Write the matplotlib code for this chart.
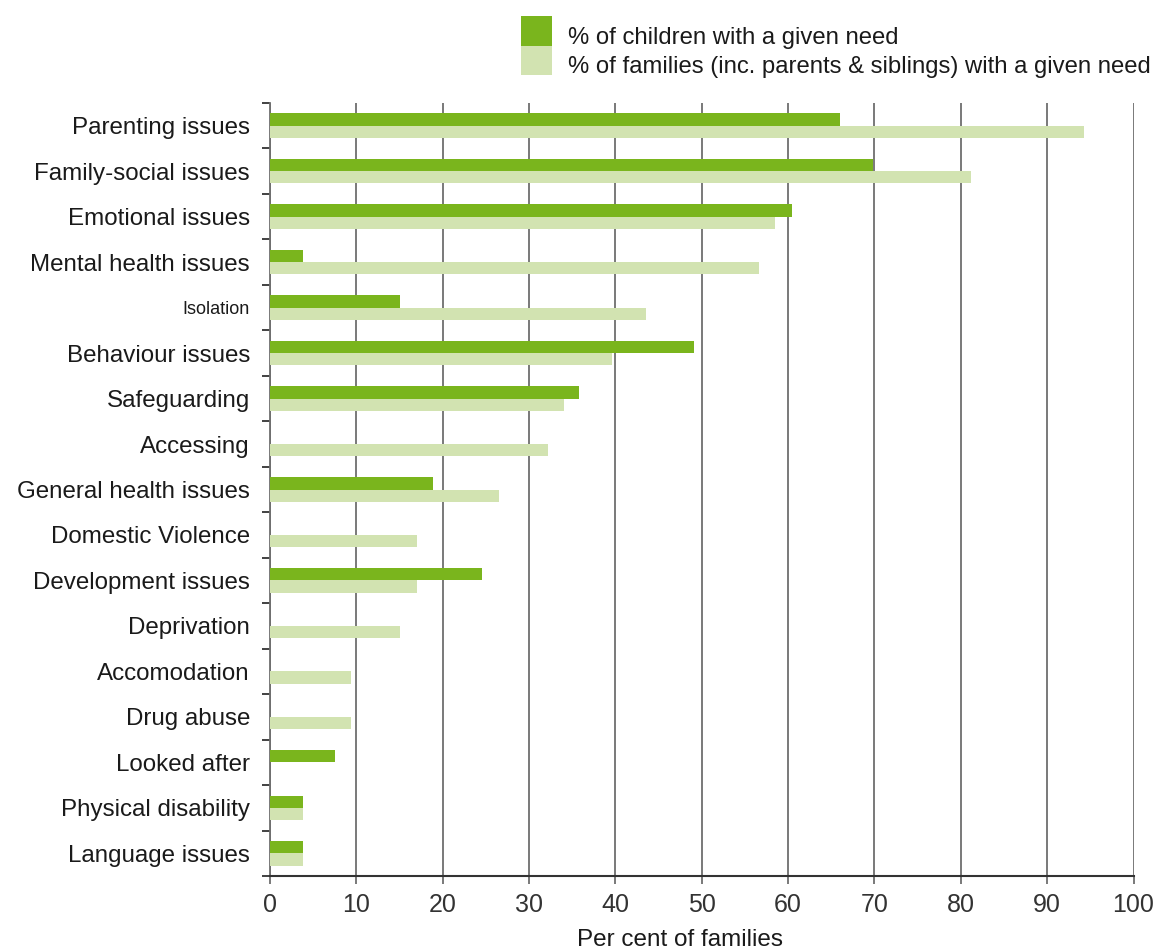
import numpy as np
import matplotlib
matplotlib.use("Agg")
import matplotlib.pyplot as plt
from matplotlib.patches import Rectangle

plt.rcParams['font.family'] = ['Liberation Sans', 'DejaVu Sans']

# Data (per cent)
categories = [
    "Parenting issues", "Family-social issues", "Emotional issues",
    "Mental health issues", "Isolation", "Behaviour issues", "Safeguarding",
    "Accessing", "General health issues", "Domestic Violence",
    "Development issues", "Deprivation", "Accomodation", "Drug abuse",
    "Looked after", "Physical disability", "Language issues",
]
children_pct = [66.0, 69.8, 60.4, 3.8, 15.1, 49.1, 35.8, 0, 18.9, 0,
                24.6, 0, 0, 0, 7.5, 3.8, 3.8]
families_pct = [94.3, 81.2, 58.5, 56.6, 43.5, 39.6, 34.1, 32.2, 26.5, 17.0,
                17.0, 15.1, 9.4, 9.4, 0, 3.8, 3.8]
series_labels = ["% of children with a given need",
                 "% of families (inc. parents & siblings) with a given need"]
x_ticks = list(range(0, 101, 10))

dark = "#7ab51d"
light = "#d2e3b1"
grid_col = "#6e6e6e"
text_col = "#1a1a1a"

fig = plt.figure(figsize=(11.6, 9.49), dpi=100)
ax = fig.add_axes([270 / 1160, 1 - 876 / 949, (1133.5 - 270) / 1160, (876 - 103) / 949])

y = np.arange(len(categories))
h = 0.27
ax.barh(y - h / 2, children_pct, height=h, color=dark, zorder=3)
ax.barh(y + h / 2, families_pct, height=h, color=light, zorder=3)

ax.set_ylim(len(categories) - 0.5, -0.5)
ax.set_xlim(0, 100)

ax.set_yticks(y)
ax.set_yticklabels(categories)
for lbl in ax.get_yticklabels():
    lbl.set_fontsize(13 if lbl.get_text() == "Isolation" else 17.4)
    lbl.set_color(text_col)
ax.set_yticks(np.arange(-0.5, len(categories), 1), minor=True)
ax.tick_params(axis='y', which='major', length=0, pad=14.4)
ax.tick_params(axis='y', which='minor', length=6, width=1.3, color="#333333", direction='out')

ax.set_xticks(x_ticks)
ax.tick_params(axis='x', length=6, width=1.3, color=grid_col, labelsize=18,
               labelcolor="#333333", pad=6)
ax.xaxis.grid(True, color=grid_col, linewidth=1.3, zorder=0)
ax.set_axisbelow(True)
ax.set_xlabel("Per cent of families", fontsize=17.5, color=text_col, labelpad=5)
ax.xaxis.set_label_coords(0.475, -0.069)

for side in ['top', 'right']:
    ax.spines[side].set_visible(False)
ax.spines['left'].set_color(grid_col)
ax.spines['left'].set_linewidth(1.3)
ax.spines['bottom'].set_color("#333333")
ax.spines['bottom'].set_linewidth(1.5)

# legend: stacked colour swatches with labels
fw, fh = 1160, 949
for i, (col, lab) in enumerate(zip([dark, light], series_labels)):
    top = 16 + i * 29.5
    fig.add_artist(Rectangle((521 / fw, 1 - (top + 29.5) / fh), 31 / fw, 29.5 / fh,
                             transform=fig.transFigure, color=col, lw=0))
    fig.text(568 / fw, 1 - (top + 22) / fh, lab, fontsize=17.2, color=text_col,
             va='center', ha='left')

fig.savefig("out.png", dpi=100)
